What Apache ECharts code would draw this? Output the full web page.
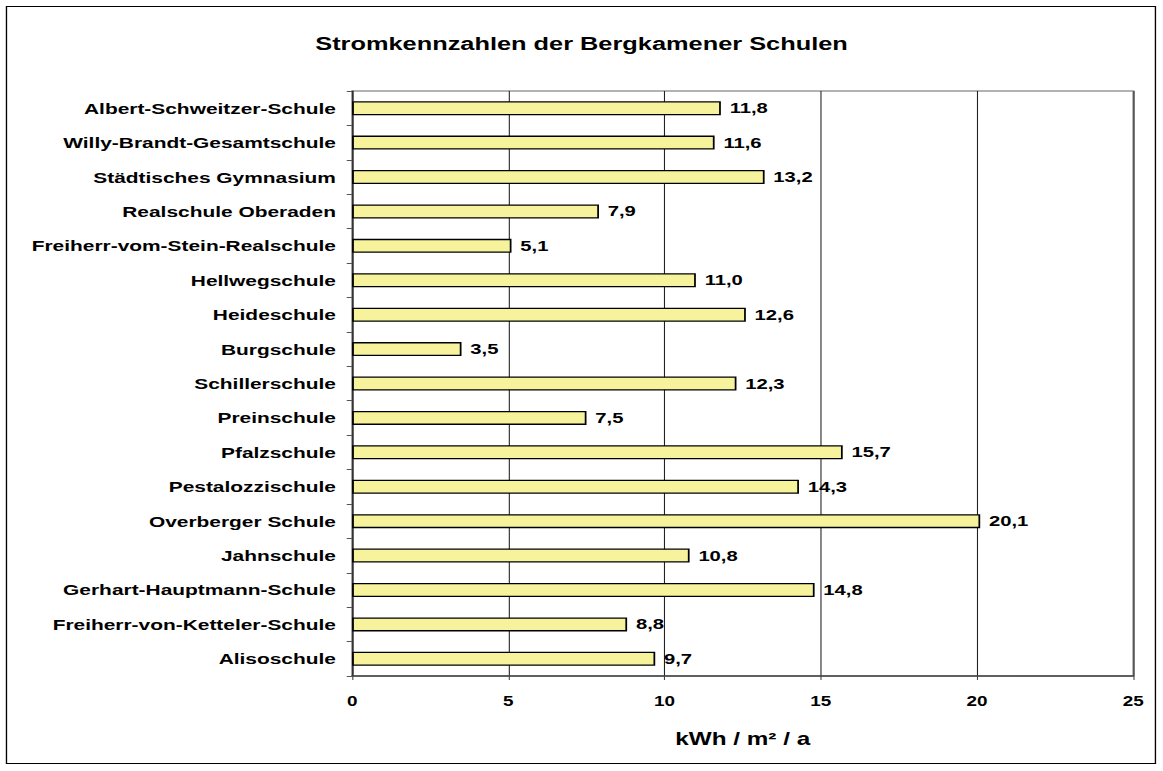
<!DOCTYPE html>
<html>
<head>
<meta charset="utf-8">
<script src="https://cdn.jsdelivr.net/npm/echarts@6/dist/echarts.min.js"></script>
<style>
html,body{margin:0;padding:0;background:#fff;overflow:hidden;}
/* die Vorlage ist horizontal gestreckt: Diagramm schmal zeichnen und auf 1163px ziehen */
#chart{width:862px;height:771px;transform:scaleX(1.34919);transform-origin:0 0;}
</style>
</head>
<body>
<div id="chart"></div>
<script>
// Schulen von oben nach unten wie im Bild
var schulen = ['Albert-Schweitzer-Schule','Willy-Brandt-Gesamtschule','Städtisches Gymnasium','Realschule Oberaden',
  'Freiherr-vom-Stein-Realschule','Hellwegschule','Heideschule','Burgschule','Schillerschule','Preinschule',
  'Pfalzschule','Pestalozzischule','Overberger Schule','Jahnschule','Gerhart-Hauptmann-Schule',
  'Freiherr-von-Ketteler-Schule','Alisoschule'];
var werte = [11.8,11.6,13.2,7.9,5.1,11.0,12.6,3.5,12.3,7.5,15.7,14.3,20.1,10.8,14.8,8.8,9.7];
var xTicks = [0,5,10,15,20,25];

var font = 'Liberation Sans, Arial, sans-serif';
var myChart = echarts.init(document.getElementById('chart'), null, {renderer:'svg'});
myChart.setOption({
  animation:false,
  title:{
    text:'Stromkennzahlen der Bergkamener Schulen',
    left:'center',top:29,
    textStyle:{fontFamily:font,fontSize:18.8,fontWeight:'bold',color:'#000'}
  },
  graphic:[{
    type:'rect',shape:{x:4.8,y:6.5,width:851.6,height:757},
    style:{fill:'none',stroke:'#000',lineWidth:1},silent:true
  }],
  grid:{left:261,right:22,top:91,bottom:95,show:true,borderColor:'#999',borderWidth:1.5,backgroundColor:'transparent'},
  xAxis:{
    type:'value',min:xTicks[0],max:xTicks[xTicks.length-1],interval:5,
    name:'kWh / m² / a',nameLocation:'middle',nameGap:54,
    nameTextStyle:{fontFamily:font,fontSize:18,fontWeight:'bold',color:'#000'},
    axisLine:{show:true,lineStyle:{color:'#444',width:1.5}},
    axisTick:{show:true,length:4,lineStyle:{color:'#444',width:0.8}},
    axisLabel:{fontFamily:font,fontSize:14,fontWeight:'bold',color:'#000',margin:18},
    splitLine:{show:true,lineStyle:{color:'#222',width:0.8}}
  },
  yAxis:{
    type:'category',data:schulen,inverse:true,
    axisLine:{show:true,lineStyle:{color:'#333',width:1.1}},
    axisTick:{show:true,length:4,lineStyle:{color:'#555'}},
    axisLabel:{fontFamily:font,fontSize:15.5,fontWeight:'bold',color:'#000',margin:12}
  },
  series:[{
    type:'bar',data:werte,barWidth:14,
    itemStyle:{color:'#F6F39C',borderColor:'#000',borderWidth:1.3},
    label:{
      show:true,position:'right',distance:6.5,
      fontFamily:font,fontSize:15,fontWeight:'bold',color:'#000',
      formatter:function(p){return p.value.toFixed(1).replace('.',',');}
    }
  }]
});
</script>
</body>
</html>
